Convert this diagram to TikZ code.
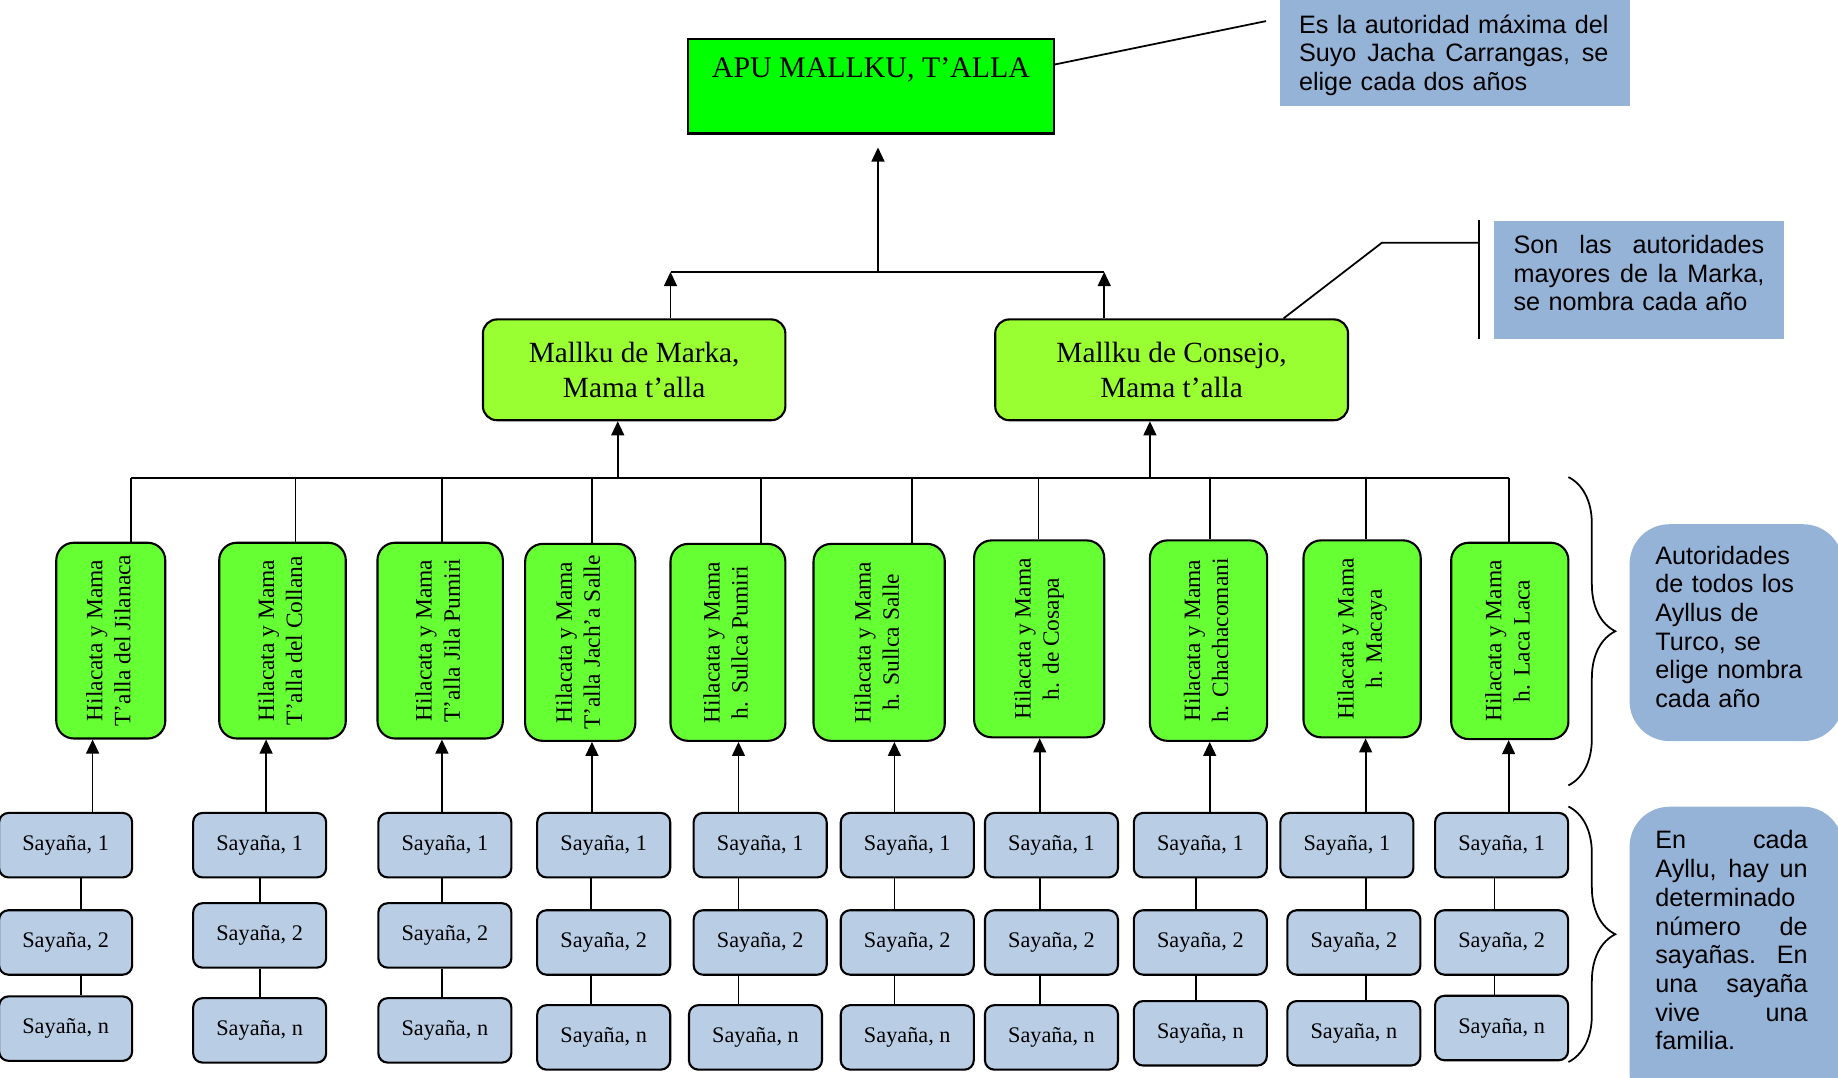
\documentclass[tikz,border=0pt]{standalone}
\usepackage{fontspec}
\usepackage{graphicx}
\setmainfont{Liberation Serif}
\newfontfamily\notefont{Liberation Sans}
\usetikzlibrary{arrows.meta,decorations.pathreplacing}
\definecolor{apugreen}{HTML}{00FF00}
\definecolor{mallkugreen}{HTML}{99FF33}
\definecolor{hilagreen}{HTML}{66FF33}
\definecolor{sayablue}{HTML}{B9CDE5}
\definecolor{noteblue}{HTML}{95B3D7}
\newcommand{\jline}[2]{\makebox[#1][s]{\spaceskip=0pt\xspaceskip=0pt #2}}
\newcommand{\sayana}[3]{%
 \node[saya] (#1) at (#2) {Sayaña, #3};%
}
\newcommand{\hilacata}[5]{%
 \node[hila, minimum width=#3, minimum height=#4] (#1) at (#2) {%
  \rotatebox{90}{\begin{tabular}{@{}c@{}}Hilacata y Mama\\#5\end{tabular}}};%
}

\begin{document}
\begin{tikzpicture}[x=1pt, y=-1pt,
  box/.style={draw, line width=1.8pt, inner sep=0pt},
  apu/.style={box, fill=apugreen, font=\fontsize{25.5}{30}\selectfont},
  mallku/.style={box, rounded corners=12pt, fill=mallkugreen, align=center, font=\fontsize{25}{30}\selectfont},
  hila/.style={box, rounded corners=15pt, fill=hilagreen, font=\fontsize{20}{24}\selectfont},
  saya/.style={box, rounded corners=8pt, fill=sayablue, minimum width=113.5pt, minimum height=55pt, font=\fontsize{19}{22}\selectfont},
  note/.style={fill=noteblue, inner ysep=0pt, align=left, font=\notefont\fontsize{21.5}{24.5}\selectfont},
  link/.style={line width=1.5pt},
  arr/.style={link, -{Triangle[length=12pt,width=11pt]}},
  brace/.style={decorate, decoration={brace, amplitude=40pt}, line width=1.5pt}]
  \useasboundingbox (0,0) rectangle (1568,919);
  \clip (0,0) rectangle (1568,919);

  % top of the hierarchy
  \node[apu, anchor=north, minimum width=312pt, text height=33pt, text depth=48pt] (apu) at (743,32) {APU MALLKU, T’ALLA};
  \node[mallku, minimum width=258pt, minimum height=86pt] (marka) at (541,315.5) {Mallku de Marka,\\Mama t’alla};
  \node[mallku, minimum width=301pt, minimum height=86pt] (consejo) at (999.5,315.5) {Mallku de Consejo,\\Mama t’alla};

  \coordinate (top) at (749,232);
  \coordinate (bus) at (112,407.5);
  \draw[link] (top -| 572,0) -- (top -| 942,0);
  \draw[arr] (marka.north -| 572,0) -- (top -| 572,0);
  \draw[arr] (consejo.north -| 942,0) -- (top -| 942,0);
  \draw[arr, shorten >=11pt] (top) -- (apu.south -| top);
  \draw[link] (bus) -- (bus -| 1287,0);
  \draw[arr] (bus -| 527,0) -- (marka.south -| 527,0);
  \draw[arr] (bus -| 981,0) -- (consejo.south -| 981,0);

  % ayllus: hilacata box and its sayanas
  \foreach \n/\hx/\hw/\hA/\hB/\tx/\ax/\xa/\xb/\xc/\yb/\yc/\lx/\txt in {
    1/94.5/93/463/630/112/79/56/56/56/805.5/879/69/{T’alla del Jilanaca},
    2/241/108/463/630/252/227/221.5/221.5/221.5/799.5/880.5/222/{T’alla del Collana},
    3/375.5/107/463/630/377/377/379.5/379.5/379.5/799.5/880.5/377/{T’alla Jila Pumiri},
    4/495/94/464/632/505/505/515/515/515/805.5/886.5/504/{T’alla Jach’a Salle},
    5/621/98/464/632/649/630/648.5/648.5/644.5/805.5/886.5/630/{h. Sullca Pumiri},
    6/750/112/464/632/778/763/774/774/774/805.5/886.5/763/{h. Sullca Salle},
    7/886.5/111/461/629/886/887/897/897/897/805.5/886.5/887/{h. de Cosapa},
    8/1031/100/461/632/1032/1032/1024/1024/1024/805.5/883/1020/{h. Chachacomani},
    9/1162/100/461/629/1165/1165/1149/1155/1155/805.5/883/1165/{h. Macaya},
    10/1288/100/463/630.5/1287/1287/1281/1281/1281/805.5/878.5/1275/{h. Laca Laca}}
  {
    \hilacata{h\n}{\hx,{(\hA+\hB)/2}}{\hw pt}{(\hB-\hA)*1pt}{\txt}
    \sayana{sa\n}{\xa,721}{1}
    \sayana{sb\n}{\xb,\yb-1.5}{2}
    \sayana{sn\n}{\xc,\yc-1.5}{n}
    \draw[link] (bus -| \tx,0) -- (h\n.north -| \tx,0);
    \draw[arr] (sa\n.north -| \ax,0) -- (h\n.south -| \ax,0);
    \draw[link] (sa\n.south -| \lx,0) -- (sb\n.north -| \lx,0);
    \draw[link] (sb\n.south -| \lx,0) -- (sn\n.north -| \lx,0);
  }

  % notes
  \node[note, anchor=north west, minimum width=298pt, inner xsep=16pt, text width=266pt, text height=28pt, text depth=62pt] (n1) at (1092,0)
    {\jline{264pt}{Es la autoridad máxima del}\\\jline{264pt}{Suyo Jacha Carrangas, se}\\elige cada dos años};
  \node[note, anchor=north west, minimum width=248pt, inner xsep=17pt, text width=214pt, text height=28pt, text depth=73pt] (n2) at (1274,188)
    {\jline{214pt}{Son las autoridades}\\\jline{214pt}{mayores de la Marka,}\\se nombra cada año};
  \node[note, rounded corners=34pt, anchor=north west, minimum width=182pt, inner xsep=22pt, text width=138pt, text height=34pt, text depth=151pt] (n3) at (1390,447)
    {Autoridades\\de todos los\\Ayllus de\\Turco, se\\elige nombra\\cada año};
  \node[note, rounded corners=34pt, anchor=north west, minimum width=182pt, inner xsep=22pt, text width=138pt, text height=36pt, text depth=226pt] (n4) at (1390,688)
    {\jline{130pt}{En cada}\\\jline{130pt}{Ayllu, hay un}\\determinado\\\jline{130pt}{número de}\\\jline{130pt}{sayañas. En}\\\jline{130pt}{una sayaña}\\\jline{130pt}{vive una}\\familia.};

  \coordinate (tip1) at (1080,18);
  \draw[link] (apu.east |- 0,55) -- (tip1);
  \coordinate (barT) at (1262,188);
  \coordinate (barB) at (1262,289);
  \draw[link] (barT) -- (barB);
  \draw[link] (consejo.north -| 1095,0) -- (1179,207) -- (barT |- 0,207);

  \draw[brace] (1338,407) -- (1338,670);
  \draw[brace] (1338,688) -- (1338,906);
\end{tikzpicture}
\end{document}
